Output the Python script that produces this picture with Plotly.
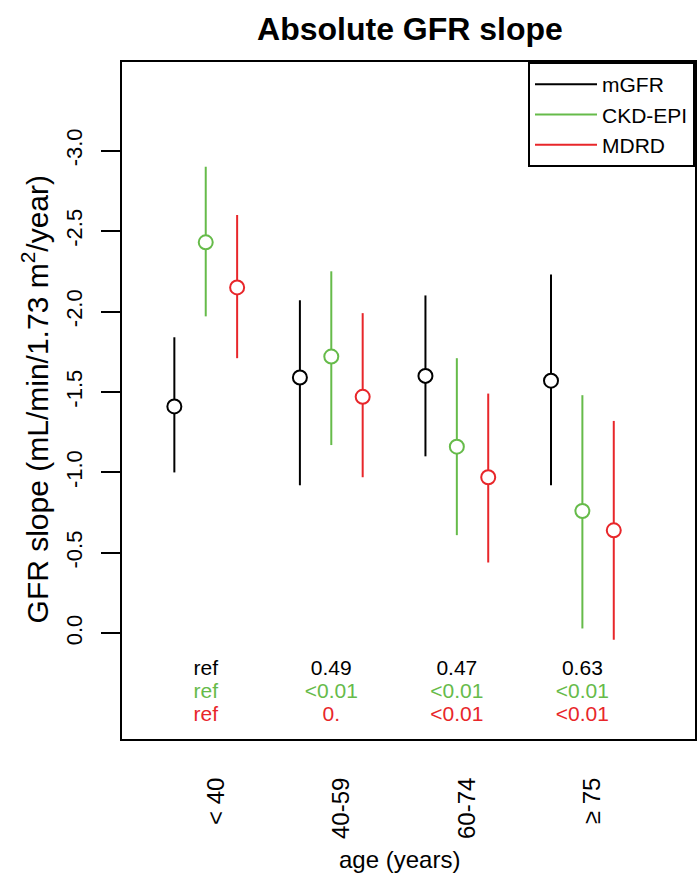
import plotly.graph_objects as go

# ---------------- data ----------------
age_groups = ["< 40", "40-59", "60-74", "≥ 75"]
methods = ["mGFR", "CKD-EPI", "MDRD"]

mgfr_est = [-1.41, -1.59, -1.60, -1.57]
mgfr_low = [-1.84, -2.07, -2.10, -2.23]
mgfr_high = [-1.00, -0.92, -1.10, -0.92]

ckd_est = [-2.43, -1.72, -1.16, -0.76]
ckd_low = [-2.90, -2.25, -1.71, -1.48]
ckd_high = [-1.97, -1.17, -0.61, -0.03]

mdrd_est = [-2.15, -1.47, -0.97, -0.64]
mdrd_low = [-2.60, -1.99, -1.49, -1.32]
mdrd_high = [-1.71, -0.97, -0.44, 0.04]

p_mgfr = ["ref", "0.49", "0.47", "0.63"]
p_ckd = ["ref", "<0.01", "<0.01", "<0.01"]
p_mdrd = ["ref", "0.", "<0.01", "<0.01"]

y_ticks = [0.0, -0.5, -1.0, -1.5, -2.0, -2.5, -3.0]
y_ticklabels = ["0.0", "-0.5", "-1.0", "-1.5", "-2.0", "-2.5", "-3.0"]

# ---------------- styling ----------------
FONT = "Liberation Sans, Arial, Helvetica, sans-serif"
colors = ["#000000", "#66bb4a", "#e8262a"]
offsets = [-0.25, 0.0, 0.25]
p_rows = [0.225, 0.37, 0.515]

series = [
    (mgfr_est, mgfr_low, mgfr_high, p_mgfr),
    (ckd_est, ckd_low, ckd_high, p_ckd),
    (mdrd_est, mdrd_low, mdrd_high, p_mdrd),
]

centers = list(range(1, len(age_groups) + 1))

fig = go.Figure()

for (est, lo, hi, pv), name, col, off, prow in zip(series, methods, colors, offsets, p_rows):
    xs = [c + off for c in centers]
    fig.add_trace(go.Scatter(
        x=xs, y=est, mode="markers", showlegend=False, name=name,
        marker=dict(symbol="circle", size=14, color="white",
                    line=dict(color=col, width=2)),
        error_y=dict(type="data", symmetric=False,
                     array=[h - e for h, e in zip(hi, est)],
                     arrayminus=[e - l for e, l in zip(est, lo)],
                     color=col, thickness=2, width=0),
    ))
    fig.add_trace(go.Scatter(
        x=centers, y=[prow] * len(centers), mode="text", showlegend=False,
        text=[t.replace("<", "&lt;") for t in pv],
        textfont=dict(family=FONT, size=21, color=col),
        textposition="middle center", hoverinfo="skip",
    ))

for name, col in zip(methods, colors):
    fig.add_trace(go.Scatter(
        x=[None], y=[None], mode="lines", name=name,
        line=dict(color=col, width=2),
    ))

fig.update_layout(
    width=700, height=875,
    margin=dict(l=122, r=3, t=62, b=136),
    paper_bgcolor="white", plot_bgcolor="white",
    font=dict(family=FONT, color="black"),
    title=dict(text="Absolute GFR slope", x=0.5026, xref="paper",
               y=1 - 29 / 875, yref="container", xanchor="center", yanchor="middle",
               font=dict(family=FONT, size=32, color="black", weight="bold")),
    legend=dict(x=1, y=1, xanchor="right", yanchor="top",
                bordercolor="black", borderwidth=2, bgcolor="white",
                font=dict(family=FONT, size=21, color="black"),
                itemwidth=62, tracegroupgap=0),
    showlegend=True,
)

fig.update_xaxes(
    range=[0.333, 4.897],
    tickvals=[c + 0.08 for c in centers],
    ticktext=[g.replace("<", "&lt;") for g in age_groups],
    tickangle=-90, ticks="", ticklabelstandoff=27,
    tickfont=dict(family=FONT, size=24, color="black"),
    showline=True, mirror=True, linecolor="black", linewidth=2,
    showgrid=False, zeroline=False,
)
fig.update_yaxes(
    range=[0.657, -3.551],
    tickvals=y_ticks, ticktext=y_ticklabels,
    tickangle=-90, ticks="outside", ticklen=19, tickwidth=1.5, tickcolor="black",
    ticklabelstandoff=10,
    tickfont=dict(family=FONT, size=22, color="black"),
    showline=True, mirror=True, linecolor="black", linewidth=2,
    showgrid=False, zeroline=False,
)

fig.add_annotation(
    text="GFR slope (mL/min/1.73 m<sup>2</sup>/year)",
    xref="paper", yref="paper", x=-0.1513, y=0.502,
    xanchor="center", yanchor="middle", textangle=-90, showarrow=False,
    font=dict(family=FONT, size=30, color="black"),
)
fig.add_annotation(
    text="age (years)",
    xref="paper", yref="paper", x=0.4835, y=-0.178,
    xanchor="center", yanchor="middle", showarrow=False,
    font=dict(family=FONT, size=24, color="black"),
)

fig.write_html("out.html")
